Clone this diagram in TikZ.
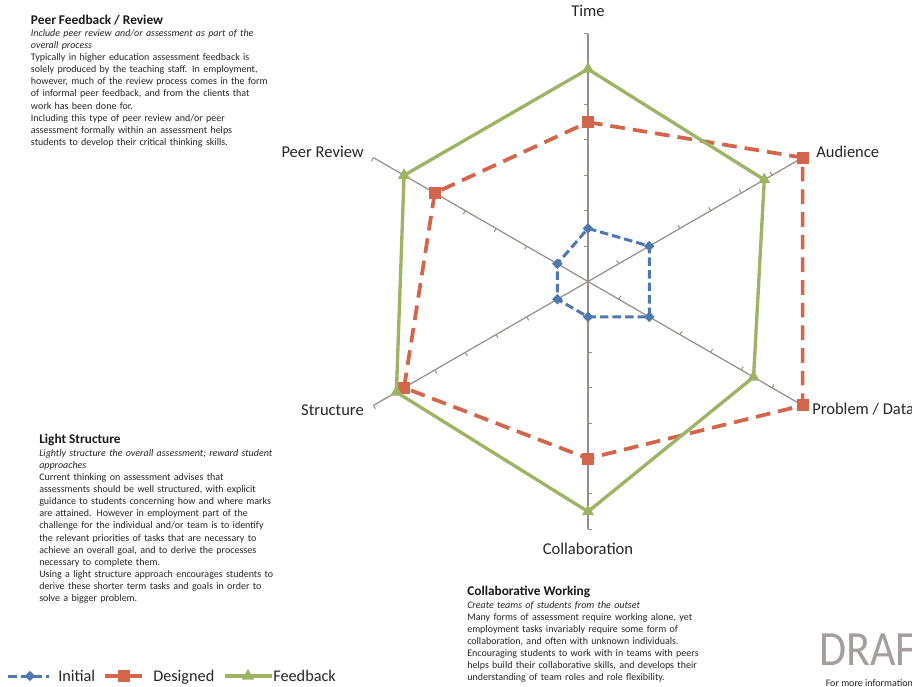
\documentclass[tikz,border=0pt]{standalone}
\usepackage{fontspec}
\setmainfont{Carlito}
\usetikzlibrary{shapes.geometric,calc}

\definecolor{initblue}{HTML}{4F79AE}
\definecolor{desred}{HTML}{D2654A}
\definecolor{fbgreen}{HTML}{9CB464}
\definecolor{axisgray}{HTML}{978C88}
\definecolor{bodytext}{HTML}{262626}
\definecolor{draftgray}{HTML}{A69E9C}

\tikzset{
  axisline/.style={draw=axisgray, line width=0.9pt},
  tickmark/.style={draw=axisgray, line width=0.75pt},
  initline/.style={draw=initblue, line width=2.25pt, line join=round, dash pattern=on 6.4pt off 3pt},
  desline/.style={draw=desred, line width=2.8pt, line join=round, dash pattern=on 11pt off 6pt},
  fbline/.style={draw=fbgreen, line width=2.5pt, line join=round},
  initmark/.style={diamond, aspect=1, fill=initblue, inner sep=0pt, minimum size=8pt},
  desmark/.style={rectangle, fill=desred, inner sep=0pt, minimum size=9pt},
  fbmark/.style={regular polygon, regular polygon sides=3, fill=fbgreen, inner sep=0pt, minimum size=10.5pt},
  axislabel/.style={font=\fontsize{12.4}{14}\selectfont, text=black!85, inner sep=0pt},
  legendtext/.style={anchor=base west, font=\fontsize{12.2}{14}\selectfont, text=black!85, inner sep=0pt},
  blocktitle/.style={anchor=base west, inner sep=0pt, font=\bfseries\fontsize{10}{12}\selectfont, text=black!90},
  blockbody/.style={anchor=north west, inner sep=0pt, align=left, text width=250pt,
    font=\fontsize{7.5}{9.08}\selectfont, text=bodytext},
}

\begin{document}
\begin{tikzpicture}[x=0.75pt,y=0.75pt]
\useasboundingbox (0,0) rectangle (912,-686);
\clip (0,0) rectangle (912,-686);
\fill[white] (0,0) rectangle (912,-686);

\def\unitr{35.4}
\coordinate (O) at (588,-281.5);

% radar axes with ticks on the counter-clockwise side
\foreach \name/\ang in {T/90, A/30, P/-30, C/-90, S/210, R/150}{
  \coordinate (end-\name) at ($(O)+(\ang:7*\unitr)$);
  \draw[axisline] (O) -- (end-\name);
  \foreach \k in {1,...,7}{
    \draw[tickmark] ($(O)+(\ang:\k*\unitr)$) -- ++(\ang+90:4);
  }
}

% data points of the three series
\foreach \name/\ang/\vi/\vd/\vf in {T/90/1.5/4.5/6, A/30/2/7/5.75, P/-30/2/7/5.4,
                                    C/-90/1/5/6.5, S/210/1/6/6.25, R/150/1/5/6}{
  \coordinate (i-\name) at ($(O)+(\ang:\vi*\unitr)$);
  \coordinate (d-\name) at ($(O)+(\ang:\vd*\unitr)$);
  \coordinate (f-\name) at ($(O)+(\ang:\vf*\unitr)$);
}

\draw[initline] (i-T) -- (i-A) -- (i-P) -- (i-C) -- (i-S) -- (i-R) -- cycle;
\foreach \name in {T,A,P,C,S,R}{\node[initmark] (mi-\name) at (i-\name) {};}

\draw[desline] (d-T) -- (d-A) -- (d-P) -- (d-C) -- (d-S) -- (d-R) -- cycle;
\foreach \name in {T,A,P,C,S,R}{\node[desmark] (md-\name) at (d-\name) {};}

\draw[fbline] (f-T) -- (f-A) -- (f-P) -- (f-C) -- (f-S) -- (f-R) -- cycle;
\foreach \name in {T,A,P,C,S,R}{\node[fbmark] (mf-\name) at (f-\name) {};}

% axis labels
\node[axislabel] (lab-T) at (588,-10.8) {Time};
\node[axislabel, anchor=west] (lab-A) at (816,-151.5) {Audience};
\node[axislabel, anchor=base west] (lab-P) at (812,-414) {Problem / Data};
\node[axislabel] (lab-C) at (588,-549) {Collaboration};
\node[axislabel, anchor=east] (lab-S) at (364,-410) {Structure};
\node[axislabel, anchor=east] (lab-R) at (364,-152) {Peer Review};

% legend
\coordinate (lgi-a) at (8,-676);  \coordinate (lgi-b) at (49,-676);
\draw[initline] (lgi-a) -- (lgi-b);
\node[initmark] (lgi-m) at (30,-676) {};
\node[legendtext] (lgi-t) at (58,-681.5) {Initial};

\coordinate (lgd-a) at (105,-676); \coordinate (lgd-b) at (143,-676);
\draw[desline] (lgd-a) -- (lgd-b);
\node[desmark] (lgd-m) at (124,-676) {};
\node[legendtext] (lgd-t) at (153,-681.5) {Designed};

\coordinate (lgf-a) at (225,-676); \coordinate (lgf-b) at (272,-676);
\draw[fbline] (lgf-a) -- (lgf-b);
\node[fbmark] (lgf-m) at (248,-676) {};
\node[legendtext] (lgf-t) at (273,-681.5) {Feedback};

% note blocks
\node[blocktitle] (peer-title) at (30.7,-24.5) {Peer Feedback / Review};
\node[blockbody] (peer-body) at (30.7,-27.5) {\rule{0pt}{6.5pt}{\itshape Include peer review and/or assessment as part of the\\
overall process}\\
Typically in higher education assessment feedback is\\
solely produced by the teaching staff. In employment,\\
however, much of the review process comes in the form\\
of informal peer feedback, and from the clients that\\
work has been done for.\\
Including this type of peer review and/or peer\\
assessment formally within an assessment helps\\
students to develop their critical thinking skills.};

\node[blocktitle] (light-title) at (39,-443.8) {Light Structure};
\node[blockbody] (light-body) at (39,-447.4) {\rule{0pt}{6.5pt}{\itshape Lightly structure the overall assessment; reward student\\
approaches}\\
Current thinking on assessment advises that\\
assessments should be well structured, with explicit\\
guidance to students concerning how and where marks\\
are attained. However in employment part of the\\
challenge for the individual and/or team is to identify\\
the relevant priorities of tasks that are necessary to\\
achieve an overall goal, and to derive the processes\\
necessary to complete them.\\
Using a light structure approach encourages students to\\
derive these shorter term tasks and goals in order to\\
solve a bigger problem.};

\node[blocktitle] (collab-title) at (467,-595.2) {Collaborative Working};
\node[blockbody] (collab-body) at (467,-599.1) {\rule{0pt}{6.5pt}{\itshape Create teams of students from the outset}\\
Many forms of assessment require working alone, yet\\
employment tasks invariably require some form of\\
collaboration, and often with unknown individuals.\\
Encouraging students to work with in teams with peers\\
helps build their collaborative skills, and develops their\\
understanding of team roles and role flexibility.};

% watermark and footer running off the lower right edge
\node[anchor=base west, inner sep=0pt, text=draftgray, yscale=1.12, font=\fontsize{33}{36}\selectfont] (draft) at (819,-665) {DRAFT};
\node[anchor=base west, inner sep=0pt, text=black!85, font=\fontsize{7.5}{9}\selectfont] (more-info) at (825.5,-686.5) {For more information};
\end{tikzpicture}
\end{document}
